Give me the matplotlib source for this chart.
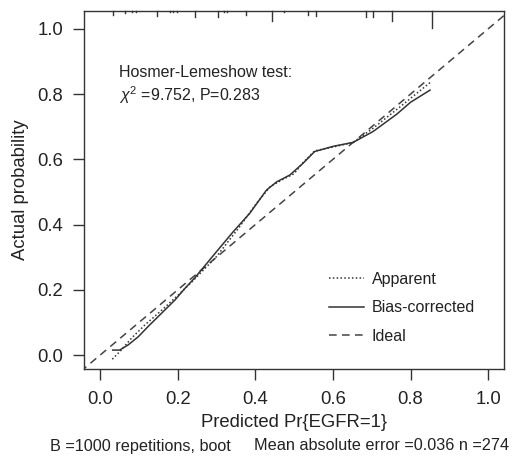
import matplotlib
matplotlib.use('Agg')
import matplotlib.pyplot as plt

plt.rcParams['font.family'] = ['Liberation Sans', 'DejaVu Sans']
plt.rcParams['mathtext.fontset'] = 'custom'
plt.rcParams['mathtext.rm'] = 'Liberation Sans'
plt.rcParams['mathtext.it'] = 'Liberation Sans:italic'

# apparent calibration curve (dotted)
apparent_x = [0.032, 0.055, 0.081, 0.115, 0.159, 0.202, 0.237, 0.300, 0.360, 0.403,
              0.438, 0.470, 0.500, 0.523, 0.553, 0.601, 0.652, 0.703, 0.772, 0.850]
apparent_y = [-0.012, 0.016, 0.052, 0.092, 0.138, 0.185, 0.225, 0.302, 0.394, 0.465,
              0.516, 0.538, 0.556, 0.590, 0.626, 0.638, 0.652, 0.695, 0.760, 0.835]

# bias-corrected calibration curve (solid)
corrected_x = [0.033, 0.051, 0.073, 0.099, 0.124, 0.159, 0.193, 0.219, 0.245, 0.300,
               0.343, 0.386, 0.429, 0.455, 0.489, 0.523, 0.553, 0.601, 0.652, 0.703,
               0.764, 0.800, 0.850]
corrected_y = [0.016, 0.016, 0.032, 0.057, 0.088, 0.129, 0.169, 0.205, 0.238, 0.317,
               0.378, 0.435, 0.506, 0.531, 0.552, 0.588, 0.624, 0.640, 0.652, 0.685,
               0.738, 0.775, 0.812]

# rug of predicted probabilities along the top
rug_x = [0.033, 0.065, 0.082, 0.093, 0.146, 0.180, 0.189, 0.198, 0.246, 0.304,
         0.319, 0.327, 0.376, 0.443, 0.475, 0.535, 0.556, 0.685, 0.703, 0.753, 0.854]
rug_count = [4, 2, 1, 1, 5, 1, 1, 1, 6, 6, 1, 1, 4, 10, 1, 4, 5, 6, 6, 10, 17]

ticks = [0.0, 0.2, 0.4, 0.6, 0.8, 1.0]
tick_labels = ['0.0', '0.2', '0.4', '0.6', '0.8', '1.0']

fig = plt.figure(figsize=(5.12, 4.63), dpi=100)
ax = fig.add_axes([0.164, 0.203, 0.820, 0.773])

ax.plot([-0.05, 1.05], [-0.05, 1.05], color='#444444', lw=1.1,
        dashes=(5, 3.5), label='Ideal')
ax.plot(apparent_x, apparent_y, color='#333333', lw=1.1, ls=(0, (1, 1.5)),
        label='Apparent')
ax.plot(corrected_x, corrected_y, color='#333333', lw=1.1, label='Bias-corrected')

# rug: tick length proportional to count
for x, c in zip(rug_x, rug_count):
    ax.plot([x, x], [1.0, 1.0 - c * 0.0028], transform=ax.get_xaxis_transform(),
            color='#333333', lw=1.0, clip_on=False)

ax.set_xlim(-0.041, 1.04)
ax.set_ylim(-0.042, 1.054)
ax.set_xticks(ticks)
ax.set_xticklabels(tick_labels)
ax.set_yticks(ticks)
ax.set_yticklabels(tick_labels)
ax.tick_params(direction='out', length=8, width=1, labelsize=13.3, pad=7,
               color='#333333', labelcolor='#222222')
ax.tick_params(axis='x', pad=8)
for s in ax.spines.values():
    s.set_linewidth(1)
    s.set_color('#333333')

ax.set_xlabel('Predicted Pr{EGFR=1}', fontsize=13.3, color='#222222', labelpad=4)
ax.set_ylabel('Actual probability', fontsize=13.3, color='#222222', labelpad=6)

ax.text(0.05, 0.867, 'Hosmer-Lemeshow test:', fontsize=11.5, va='center',
        color='#222222')
ax.text(0.05, 0.797, r'$\chi^2$ =9.752, P=0.283', fontsize=11.5, va='center',
        color='#222222')

handles, labels = ax.get_legend_handles_labels()
order = [1, 2, 0]
ax.legend([handles[i] for i in order], [labels[i] for i in order],
          loc='lower right', bbox_to_anchor=(0.966, 0.03), frameon=False,
          fontsize=11.5, handlelength=2.2, handletextpad=0.5,
          labelspacing=0.85, labelcolor='#222222')

fig.text(50 / 512, 1 - 446 / 463, 'B =1000 repetitions, boot', fontsize=11.7,
         va='center', ha='left', color='#222222')
fig.text(509 / 512, 1 - 446 / 463, 'Mean absolute error =0.036 n =274',
         fontsize=11.7, va='center', ha='right', color='#222222')

fig.savefig('out.png', dpi=100)
